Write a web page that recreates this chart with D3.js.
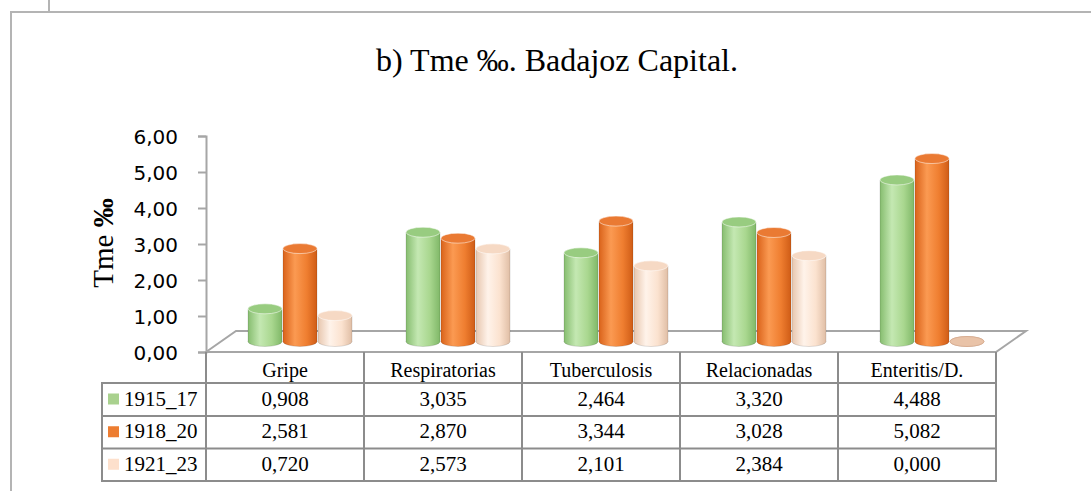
<!DOCTYPE html>
<meta charset="utf-8">
<style>
	body{ margin:0; background:#fff; }
	.frame{ stroke:#b4b4b4; stroke-width:2; fill:none; }
	.floor{ stroke:#a6a6a6; stroke-width:2; fill:none; }
	.grid{ stroke:#8c8c8c; stroke-width:2; fill:none; }
	.tick text{ font-family:"DejaVu Sans", sans-serif; font-size:20px; fill:#000; }
	.serif{ font-family:"Liberation Serif", "Times New Roman", serif; fill:#000; }
</style>
<body>
<svg width="1091" height="491" id="chart"></svg>
<script src="https://d3js.org/d3.v7.min.js"></script>
<script>
	// data
	var categories = ["Gripe", "Respiratorias", "Tuberculosis", "Relacionadas", "Enteritis/D."];
	var seriesNames = ["1915_17", "1918_20", "1921_23"];
	var v1915_17 = [0.908, 3.035, 2.464, 3.320, 4.488];
	var v1918_20 = [2.581, 2.870, 3.344, 3.028, 5.082];
	var v1921_23 = [0.720, 2.573, 2.101, 2.384, 0.000];
	var yTicks = [0, 1, 2, 3, 4, 5, 6];
	var seriesColors = ["#a9d18e", "#ed7d31", "#fde0cc"];

	var seriesValues = [v1915_17, v1918_20, v1921_23];

	var locale = d3.formatLocale({decimal: ",", thousands: ".", grouping: [3], currency: ["", ""]});
	var f2 = locale.format(".2f"), f3 = locale.format(".3f");

	var svg = d3.select("#chart");

	// page frame
	svg.append("path").attr("class", "frame").attr("d", "M49,0V12M10,12H1091M11,12V491");

	// layout
	var left = 206, right = 996, floorY = 352, topY = 136;
	var depthX = 30, depthY = -21;
	var x = d3.scaleBand().domain(categories).range([left, right]);
	var y = d3.scaleLinear().domain([0, 6]).range([floorY, topY]);
	var xs = d3.scaleBand().domain(seriesNames).range([-52.5, 52.5]);

	// title
	svg.append("text").attr("class", "serif")
		.attr("x", 557).attr("y", 71)
		.attr("text-anchor", "middle")
		.style("font-size", "32px")
		.text("b) Tme ‰. Badajoz Capital.");

	// y axis title
	var yt = svg.append("text").attr("class", "serif")
		.attr("transform", "translate(113,243) rotate(-90)")
		.attr("text-anchor", "middle")
		.style("font-size", "29px");
	yt.append("tspan").text("Tme ");
	yt.append("tspan").style("font-weight", "bold").text("‰");

	// floor
	svg.append("path").attr("class", "floor")
		.attr("d", "M" + left + "," + floorY + "L" + (left + depthX) + "," + (floorY + depthY) +
			"H" + (right + depthX) + "L" + right + "," + floorY + "Z");

	// y axis
	var yAxis = d3.axisLeft(y).tickValues(yTicks).tickFormat(f2).tickSize(8).tickPadding(20);
	var ga = svg.append("g").attr("transform", "translate(" + left + ",0)").call(yAxis);
	ga.select(".domain").attr("stroke", "#a6a6a6").attr("stroke-width", 2);
	ga.selectAll(".tick line").attr("stroke", "#a6a6a6").attr("stroke-width", 2);
	ga.selectAll(".tick text").attr("dy", "0.36em");

	// gradients for cylinders
	var defs = svg.append("defs");
	var shades = [
		["#86bd6f", "#c4e8b2", "#a9d78f", "#80b868"],
		["#d9621a", "#fb9a52", "#ef7e30", "#cf5c16"],
		["#e7c6ae", "#fff3ea", "#fbe2cf", "#e0bea5"]
	];
	var tops = ["#98cc80", "#ea7a33", "#f6d9c4"];
	shades.forEach(function(s, i){
		var g = defs.append("linearGradient").attr("id", "cyl" + i)
			.attr("x1", "0%").attr("x2", "100%").attr("y1", "0%").attr("y2", "0%");
		g.append("stop").attr("offset", "0%").attr("stop-color", s[0]);
		g.append("stop").attr("offset", "35%").attr("stop-color", s[1]);
		g.append("stop").attr("offset", "70%").attr("stop-color", s[2]);
		g.append("stop").attr("offset", "100%").attr("stop-color", s[3]);
	});

	// cylinders
	var rx = 17, ry = 5;
	var bars = [];
	categories.forEach(function(c, ci){
		seriesNames.forEach(function(s, si){
			bars.push({cat: c, s: s, si: si, v: seriesValues[si][ci]});
		});
	});
	var gb = svg.selectAll("g.bar").data(bars).enter().append("g").attr("class", "bar")
		.attr("transform", function(d){
			var cx = x(d.cat) + x.bandwidth() / 2 + depthX / 2 + xs(d.s) + xs.bandwidth() / 2;
			return "translate(" + cx + "," + (depthY / 2) + ")";
		});
	gb.append("ellipse")
		.attr("cx", 0).attr("cy", y(0)).attr("rx", rx).attr("ry", ry)
		.attr("fill", function(d){ return "url(#cyl" + d.si + ")"; })
		.attr("stroke", "rgba(0,0,0,0.12)");
	gb.filter(function(d){ return d.v > 0; }).append("rect")
		.attr("x", -rx).attr("width", 2 * rx)
		.attr("y", function(d){ return y(d.v); })
		.attr("height", function(d){ return y(0) - y(d.v); })
		.attr("fill", function(d){ return "url(#cyl" + d.si + ")"; });
	gb.filter(function(d){ return d.v > 0; }).append("path")
		.attr("d", function(d){ return "M" + (-rx) + "," + y(d.v) + "V" + y(0) + "M" + rx + "," + y(d.v) + "V" + y(0); })
		.attr("stroke", "rgba(0,0,0,0.12)").attr("fill", "none");
	gb.append("ellipse")
		.attr("cx", 0).attr("cy", function(d){ return y(d.v); }).attr("rx", rx).attr("ry", ry)
		.attr("fill", function(d){ return d.v > 0 ? tops[d.si] : "#e9c3a8"; })
		.attr("stroke", function(d){ return d.v > 0 ? "rgba(255,255,255,0.5)" : "#d9ae92"; });

	// data table
	var rowY = [352, 383, 416, 448.5, 481];
	var legLeft = 102;
	var grid = svg.append("g");
	categories.concat(["end"]).forEach(function(c, i){
		var xx = i < categories.length ? x(c) : right;
		grid.append("line").attr("class", "grid")
			.attr("x1", xx).attr("x2", xx).attr("y1", rowY[0]).attr("y2", rowY[4]);
	});
	grid.append("line").attr("class", "grid")
		.attr("x1", legLeft).attr("x2", legLeft).attr("y1", rowY[1]).attr("y2", rowY[4]);
	rowY.slice(1).forEach(function(ry){
		grid.append("line").attr("class", "grid")
			.attr("x1", legLeft - 1).attr("x2", right + 1).attr("y1", ry).attr("y2", ry);
	});

	svg.selectAll("text.cat").data(categories).enter().append("text")
		.attr("class", "cat serif")
		.attr("x", function(d){ return x(d) + x.bandwidth() / 2; })
		.attr("y", 377)
		.attr("text-anchor", "middle")
		.style("font-size", "20px")
		.text(function(d){ return d; });

	seriesNames.forEach(function(s, si){
		var by = [406, 438, 471][si];
		svg.append("rect").attr("x", 108).attr("y", (rowY[si + 1] + rowY[si + 2]) / 2 - 6)
			.attr("width", 11).attr("height", 11).attr("fill", seriesColors[si]);
		svg.append("text").attr("class", "serif")
			.attr("x", 124).attr("y", by)
			.style("font-size", "21px")
			.text(s);
		svg.selectAll("text.val" + si).data(seriesValues[si]).enter().append("text")
			.attr("class", "serif val" + si)
			.attr("x", function(d, i){ return x(categories[i]) + x.bandwidth() / 2; })
			.attr("y", by)
			.attr("text-anchor", "middle")
			.style("font-size", "21px")
			.text(function(d){ return f3(d); });
	});
</script>
</body>
